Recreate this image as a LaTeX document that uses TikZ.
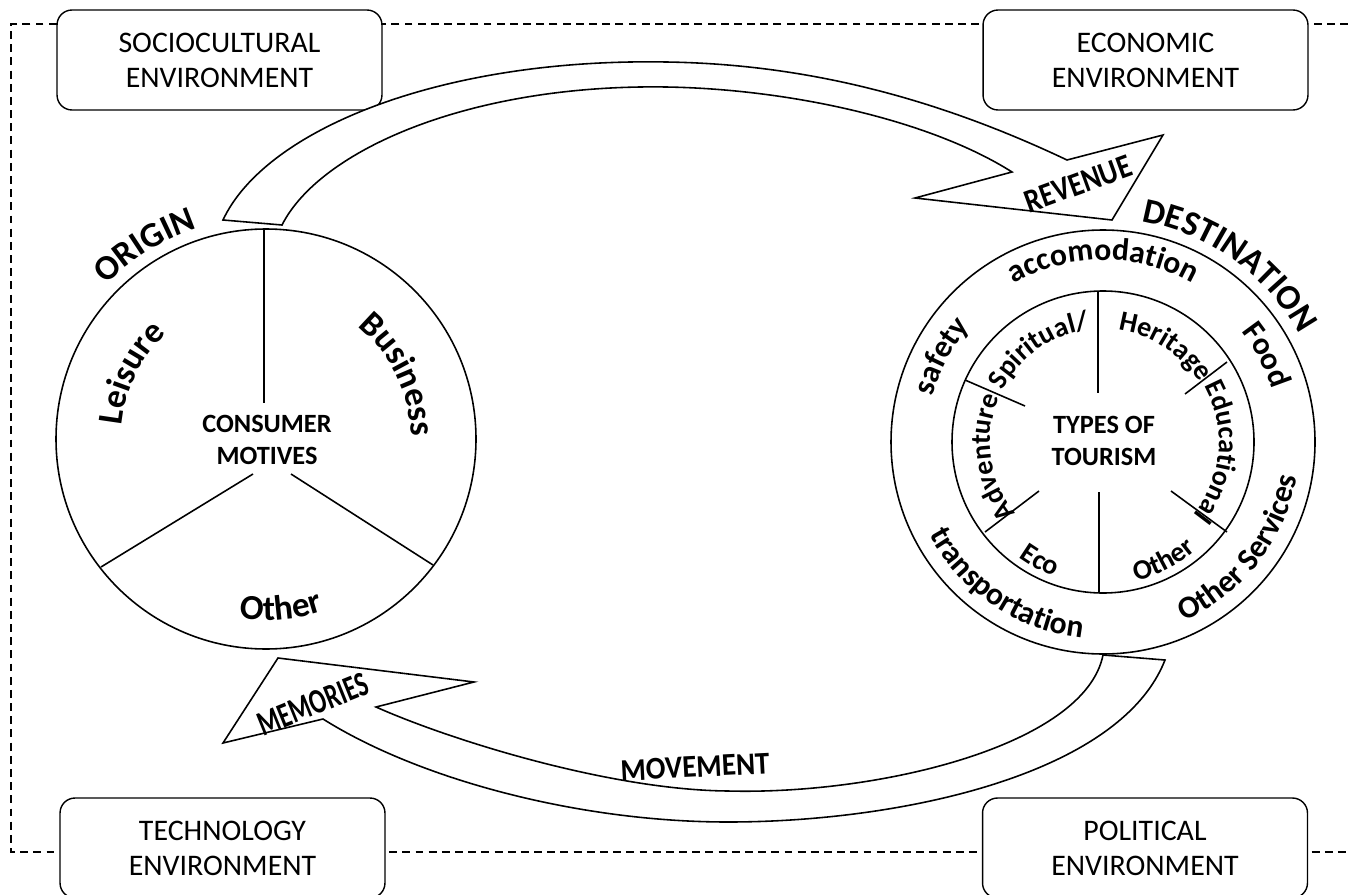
\documentclass[tikz,border=0pt]{standalone}
\usepackage{fontspec}
\setmainfont{Carlito}
\usetikzlibrary{decorations.text}

\newcommand\ringfont{\fontsize{18}{20}\selectfont\bfseries}
\newcommand\typefont{\fontsize{16}{18}\selectfont\bfseries}
\newcommand\bigfont{\fontsize{20}{22}\selectfont\bfseries}
\newcommand\arrowfont{\fontsize{19}{21}\selectfont\bfseries}

\tikzset{
  envbox/.style={draw, fill=white, rounded corners=0.3cm, line width=0.8pt,
    minimum width=6.5cm, minimum height=2cm, align=center,
    font=\fontsize{17}{20}\selectfont},
  hub/.style={align=center, font=\fontsize{15}{18.7}\selectfont\bfseries},
  along/.style={decorate, decoration={text along path, text align=center, text={#1}}},
  band/.style={draw, fill=white, line join=miter},
}

\begin{document}
\begin{tikzpicture}[x=0.02cm, y=-0.02cm, line width=0.9pt]
  \useasboundingbox (0,0) rectangle (1348,895);

  % Environment frame
  \draw[line width=0.6pt, dash pattern=on 4.5pt off 3pt]
    (1348,24) -- (11,24) -- (11,852) -- (1348,852);

  \node[envbox] (socio) at (219.5,60) {SOCIOCULTURAL\\ENVIRONMENT};
  \node[envbox] (econ) at (1145.5,60) {ECONOMIC\\ENVIRONMENT};
  \node[envbox] (tech) at (222.5,848) {TECHNOLOGY\\ENVIRONMENT};
  \node[envbox] (polit) at (1145,848) {POLITICAL\\ENVIRONMENT};

  % Revenue arrow
  \draw[band] (223,220) .. controls (265,130) and (440,58) .. (666,62)
    .. controls (800,64) and (930,95) .. (1067,160)
    -- (1163,135) -- (1112,220) -- (915,198) -- (1012,172)
    .. controls (930,120) and (790,89) .. (666,87)
    .. controls (470,84) and (320,150) .. (282,225) -- cycle;
  \node[rotate=20, font=\arrowfont] (revenue) at (1078,184) {\scalebox{.85}[1]{REVENUE}};

  % Memories arrow
  \draw[band] (1103,655) .. controls (1085,745) and (880,795) .. (728,791)
    .. controls (610,790) and (450,740) .. (376,707)
    -- (474,682) -- (278,658) -- (223,743) -- (323,719)
    .. controls (420,780) and (580,822) .. (728,822)
    .. controls (900,822) and (1120,775) .. (1165,660) -- cycle;
  \node[rotate=22, font=\fontsize{20}{22}\selectfont\bfseries] (memories) at (313,704) {\scalebox{.7}[1]{MEMORIES}};
  \node[rotate=3, font=\fontsize{18}{20}\selectfont\bfseries] (movement) at (695,767) {\scalebox{.92}[1]{MOVEMENT}};

  % Origin
  \coordinate (orig) at (266,439);
  \draw (orig) circle[radius=210];
  \foreach \xa/\ya/\xb/\yb in {264/230/264/403, 253/474/101/567, 291/474/433/565}
    \draw (\xa,\ya) -- (\xb,\yb);
  \node[hub] (motives) at (267,440) {CONSUMER\\MOTIVES};

  \path[along={|\bigfont|ORIGIN}] (orig) ++(-157:222) arc[start angle=-157, end angle=-87, radius=222];
  \path[along={|\bigfont|Leisure}] (orig) ++(-209:145) arc[start angle=-209, end angle=-99, radius=145];
  \path[along={|\bigfont|Business}] (orig) ++(-81:145) arc[start angle=-81, end angle=29, radius=145];
  \path[along={|\bigfont|Other}] (orig) ++(-235:181) arc[start angle=-235, end angle=-315, radius=181];

  % Destination
  \coordinate (dest) at (1103,442);
  \draw (dest) circle[radius=212];
  \draw (dest) circle[radius=151];
  \foreach \xa/\ya/\xb/\yb in {1098/291/1098/393, 1099/492/1099/592,
                               965/380/1025/406, 1227/362/1185/394,
                               985/532/1039/491, 1227/532/1171/491}
    \draw (\xa,\ya) -- (\xb,\yb);
  \node[hub] (types) at (1104,441) {TYPES OF\\TOURISM};

  \path[along={|\bigfont|DESTINATION}] (dest) ++(-104.5:224) arc[start angle=-104.5, end angle=-4.5, radius=224];
  \path[along={|\ringfont|accomodation}] (dest) ++(-140:182) arc[start angle=-140, end angle=-40, radius=182];
  \path[along={|\ringfont|Food}] (dest) ++(-58:177) arc[start angle=-58, end angle=2, radius=177];
  \path[along={|\ringfont|safety}] (dest) ++(-182:176) arc[start angle=-182, end angle=-122, radius=176];
  \path[along={|\ringfont|transportation}] (dest) ++(-191:197) arc[start angle=-191, end angle=-281, radius=197];
  \path[along={|\ringfont|Other Services}] (dest) ++(-277:197) arc[start angle=-277, end angle=-367, radius=197];

  % types of tourism
  \path[along={|\typefont|Spiritual/}] (dest) ++(-175:113) arc[start angle=-175, end angle=-75, radius=113];
  \path[along={|\typefont|Heritage}] (dest) ++(-102:113) arc[start angle=-102, end angle=-12, radius=113];
  \path[along={|\typefont|Educational}] (dest) ++(-45:116) arc[start angle=-45, end angle=55, radius=116];
  \path[along={|\typefont|Adventure}] (dest) ++(-238:113) arc[start angle=-238, end angle=-138, radius=113];
  \path[along={|\typefont|Eco}] (dest) ++(-212:143) arc[start angle=-212, end angle=-272, radius=143];
  \path[along={|\typefont|Other}] (dest) ++(-267:143) arc[start angle=-267, end angle=-327, radius=143];
\end{tikzpicture}
\end{document}
